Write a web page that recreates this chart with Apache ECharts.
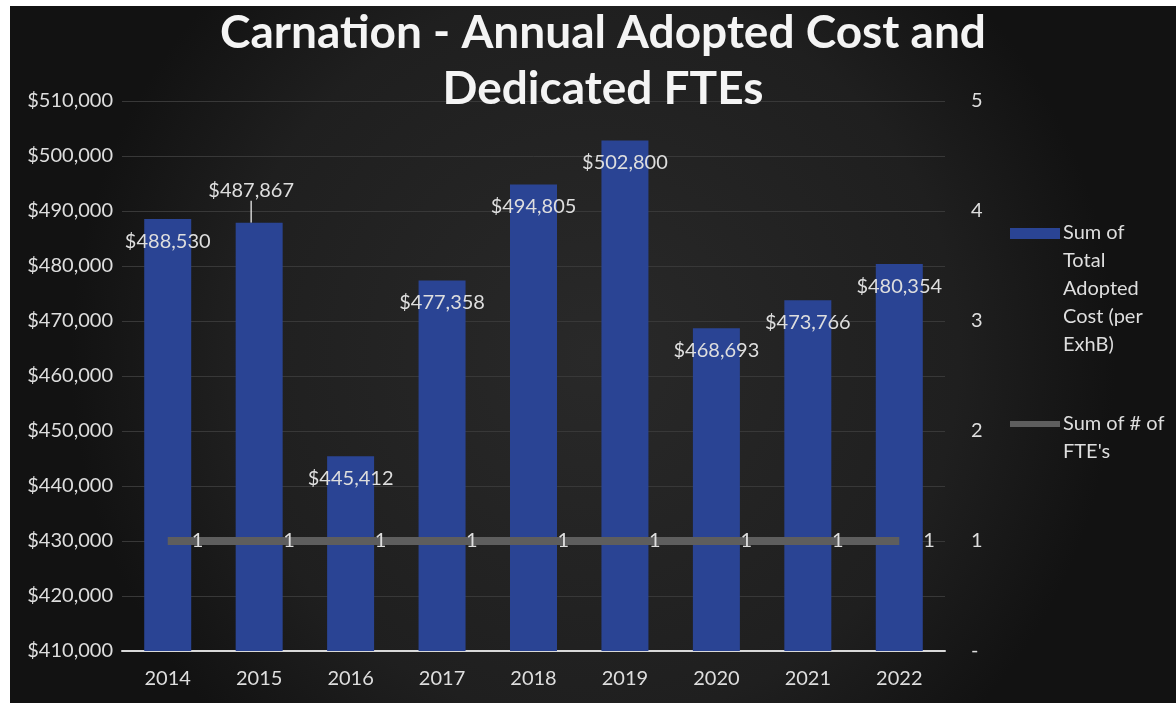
<!DOCTYPE html>
<html>
<head>
<meta charset="utf-8">
<title>Carnation - Annual Adopted Cost and Dedicated FTEs</title>
<script src="https://cdn.jsdelivr.net/npm/echarts@6/dist/echarts.min.js"></script>
<style>
  html, body { margin: 0; padding: 0; background: #ffffff; }
  #chart { position: absolute; left: 10px; top: 6px; width: 1166px; height: 697px; }
</style>
</head>
<body>
<div id="chart"></div>
<script>
// Fiscal years on the category axis
const years = ['2014', '2015', '2016', '2017', '2018', '2019', '2020', '2021', '2022'];
// Sum of Total Adopted Cost (per ExhB), dollars
const adoptedCost = [488530, 487867, 445412, 477358, 494805, 502800, 468693, 473766, 480354];
// Sum of # of FTE's
const fteCount = [1, 1, 1, 1, 1, 1, 1, 1, 1];
// Series names shown in the legend
const costName = 'Sum of Total Adopted Cost (per ExhB)';
const fteName = "Sum of # of FTE's";
const costLegendLines = ['Sum of', 'Total', 'Adopted', 'Cost (per', 'ExhB)'];
const fteLegendLines = ['Sum of # of', "FTE's"];

const FONT = 'Lato, "Open Sans", sans-serif';
const TEXT = '#dedede';
const BAR = '#2a4494';
const LINE = '#5e5e5e';
const FS = 20;

const money = v => '$' + Math.round(v).toLocaleString('en-US');

const chart = echarts.init(document.getElementById('chart'));

chart.setOption({
  backgroundColor: {
    type: 'radial', x: 0.5, y: 0.5, r: 0.75,
    colorStops: [
      { offset: 0, color: '#292929' },
      { offset: 0.7, color: '#1f1f1f' },
      { offset: 1, color: '#121212' }
    ]
  },
  textStyle: { fontFamily: FONT },
  title: {
    text: 'Carnation - Annual Adopted Cost and\nDedicated FTEs',
    left: 588,
    top: -6,
    textAlign: 'center',
    textStyle: {
      color: '#f4f4f4', fontFamily: FONT, fontWeight: 'bold',
      fontSize: 46, lineHeight: 56
    }
  },
  grid: { left: 112, right: 231, top: 95, bottom: 52, containLabel: false },
  xAxis: {
    type: 'category',
    data: years,
    axisLine: { show: true, lineStyle: { color: '#d9d9d9', width: 2 } },
    axisTick: { show: false },
    axisLabel: { color: TEXT, fontSize: FS, margin: 18, fontFamily: FONT }
  },
  yAxis: [
    {
      type: 'value',
      min: 410000, max: 510000, interval: 10000,
      axisLine: { show: false },
      axisTick: { show: false },
      axisLabel: { color: TEXT, fontSize: FS, margin: 9, fontFamily: FONT, formatter: money },
      splitLine: { show: true, lineStyle: { color: '#383838', width: 1 } }
    },
    {
      type: 'value',
      min: 0, max: 5, interval: 1,
      position: 'right',
      axisLine: { show: false },
      axisTick: { show: false },
      axisLabel: {
        color: TEXT, fontSize: FS, margin: 26, fontFamily: FONT, align: 'left',
        formatter: v => (v === 0 ? '-' : String(v))
      },
      splitLine: { show: false }
    }
  ],
  series: [
    {
      name: costName,
      type: 'bar',
      yAxisIndex: 0,
      barWidth: 47,
      itemStyle: { color: BAR },
      data: adoptedCost.map((v, i) => (i === 1
        ? { value: v, label: { position: 'top', distance: 4 }, labelLine: { show: true, lineStyle: { color: '#cfcfcf', width: 1.5 } } }
        : v)),
      label: {
        show: true,
        position: 'insideTop',
        distance: 12,
        color: TEXT,
        fontSize: FS,
        fontFamily: FONT,
        formatter: p => money(p.value)
      },
      labelLayout: p => (p.dataIndex === 1 ? { dx: -8, dy: -18 } : {}),
      z: 2
    },
    {
      name: fteName,
      type: 'line',
      yAxisIndex: 1,
      data: fteCount,
      symbol: 'circle',
      symbolSize: 0.1,
      showSymbol: true,
      lineStyle: { color: LINE, width: 8 },
      itemStyle: { color: LINE },
      label: {
        show: true,
        position: 'right',
        distance: 24,
        color: TEXT,
        fontSize: FS,
        fontFamily: FONT
      },
      z: 3
    }
  ],
  graphic: [
    { type: 'rect', left: 1000, top: 222, shape: { width: 50, height: 11 }, style: { fill: BAR } },
    {
      type: 'text', left: 1053, top: 213,
      style: { text: costLegendLines.join('\n'), fill: TEXT, font: FS + 'px ' + FONT, lineHeight: 28 }
    },
    { type: 'rect', left: 1000, top: 415, shape: { width: 50, height: 6 }, style: { fill: LINE } },
    {
      type: 'text', left: 1053, top: 404,
      style: { text: fteLegendLines.join('\n'), fill: TEXT, font: FS + 'px ' + FONT, lineHeight: 28 }
    }
  ]
});
</script>
</body>
</html>
